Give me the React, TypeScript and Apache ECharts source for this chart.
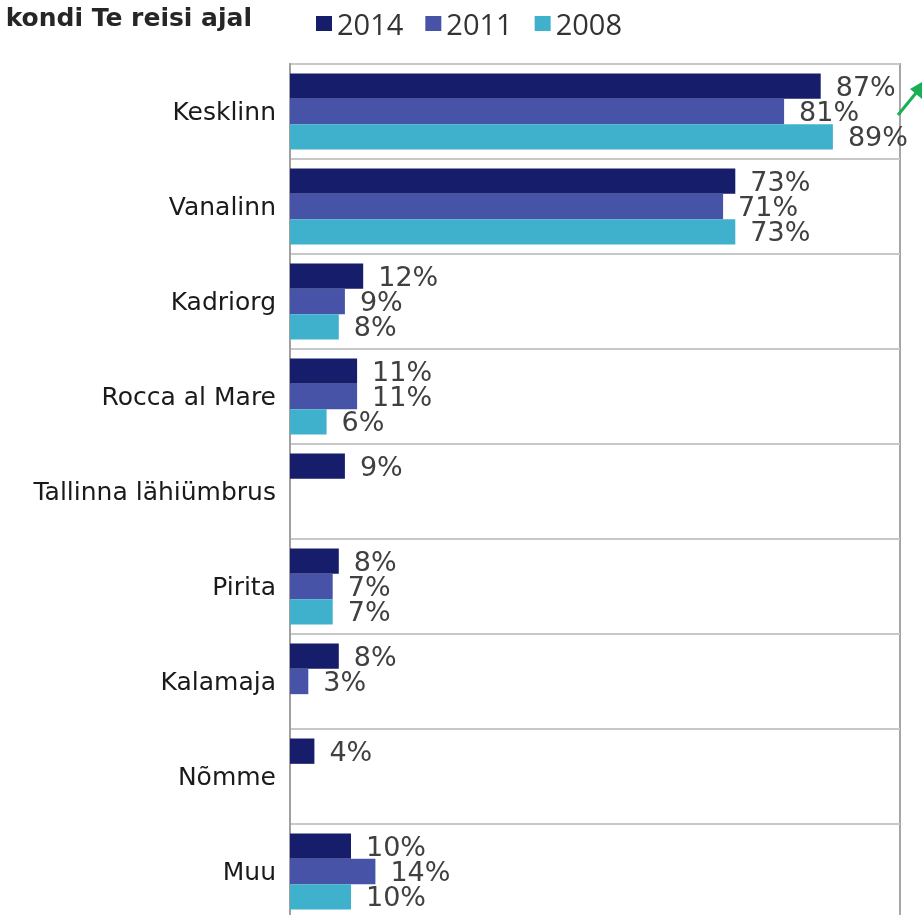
import React, { useEffect, useRef } from "react";
import * as echarts from "echarts";

const categories = [
  "Kesklinn",
  "Vanalinn",
  "Kadriorg",
  "Rocca al Mare",
  "Tallinna lähiümbrus",
  "Pirita",
  "Kalamaja",
  "Nõmme",
  "Muu",
];
const seriesNames = ["2014", "2011", "2008"];
const values2014 = [87, 73, 12, 11, 9, 8, 8, 4, 10];
const values2011 = [81, 71, 9, 11, null, 7, 3, null, 14];
const values2008 = [89, 73, 8, 6, null, 7, null, null, 10];
const colors = ["#161d6b", "#4753a6", "#3fb1cd"];
const titleText = "kondi Te reisi ajal";

export default function App() {
  const ref = useRef<HTMLDivElement>(null);
  useEffect(() => {
    if (!ref.current) return;
    const chart = echarts.init(ref.current, null, { renderer: "svg" });
    const allValues = [values2014, values2011, values2008];
    const labelStyle = {
      show: true,
      position: "right",
      distance: 15,
      formatter: "{c}%",
      fontSize: 27,
      fontFamily: "DejaVu Sans",
      color: "#404040",
    };
    chart.setOption({
      animation: false,
      color: colors,
      grid: {
        left: 290,
        top: 64,
        width: 610,
        height: 855,
        containLabel: false,
        outerBoundsMode: "none",
        show: true,
        borderColor: "#a6a6a6",
        borderWidth: 2,
        backgroundColor: "transparent",
      },
      legend: {
        left: 311,
        top: 4,
        icon: "rect",
        itemWidth: 16,
        itemHeight: 15,
        itemGap: 22,
        data: seriesNames,
        textStyle: {
          fontSize: 29,
          fontFamily: "Open Sans",
          color: "#333333",
        },
      },
      xAxis: {
        type: "value",
        min: 0,
        max: 100,
        show: false,
        splitLine: { show: false },
      },
      yAxis: {
        type: "category",
        inverse: true,
        data: categories,
        axisLine: { show: true, lineStyle: { color: "#a0a0a0", width: 2 } },
        axisTick: { show: false },
        axisLabel: {
          margin: 14,
          fontSize: 25,
          fontFamily: "DejaVu Sans",
          color: "#1a1a1a",
          padding: [6, 0, 0, 0],
        },
        splitLine: { show: true, lineStyle: { color: "#c8c8c8", width: 2 } },
      },
      series: seriesNames.map((name, i) => ({
        name,
        type: "bar",
        data: allValues[i],
        barGap: "0%",
        barCategoryGap: "20%",
        label: labelStyle,
        itemStyle: { color: colors[i] },
      })),
      graphic: [
        {
          type: "text",
          x: 252,
          y: 17,
          style: {
            text: titleText,
            fontSize: 25,
            fontWeight: "bold",
            fontFamily: "DejaVu Sans",
            fill: "#262626",
            align: "right",
            verticalAlign: "middle",
          },
        },
        {
          type: "line",
          shape: { x1: 898, y1: 115, x2: 916, y2: 93 },
          style: { stroke: "#1aaf54", lineWidth: 3 },
        },
        {
          type: "polygon",
          shape: { points: [[932, 76], [910, 89], [922, 99]] },
          style: { fill: "#1aaf54" },
        },
      ],
    });
    return () => chart.dispose();
  }, []);
  return (
    <div
      ref={ref}
      style={{ position: "fixed", left: 0, top: 0, width: 922, height: 915 }}
    />
  );
}
